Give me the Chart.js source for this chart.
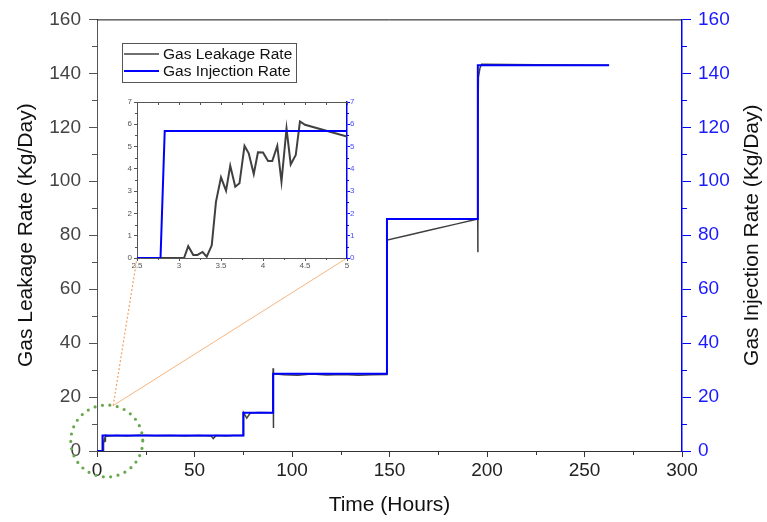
<!DOCTYPE html>
<html>
<head>
<meta charset="utf-8">
<script src="https://cdn.jsdelivr.net/npm/chart.js@4.4.1/dist/chart.umd.min.js"></script>
<style>
  body { margin: 0; background: #fff; }
  #wrap { position: relative; width: 767px; height: 522px; }
  #main { position: absolute; left: 0; top: 0; }
  #inset { position: absolute; left: 110px; top: 90px; }
</style>
</head>
<body>
<div id="wrap">
  <canvas id="main" width="767" height="522"></canvas>
  <canvas id="inset" width="250" height="185"></canvas>
</div>
<script>
// leakage rate (hours, kg/day)
const leakageHours = [0, 2.5, 3.06, 3.11, 3.17, 3.22, 3.28, 3.33, 3.39, 3.44, 3.5, 3.56, 3.61, 3.67, 3.72,
  3.78, 3.83, 3.89, 3.94, 4.0, 4.06, 4.11, 4.17, 4.22, 4.28, 4.33, 4.39, 4.44, 4.5, 5.0,
  6.5, 10, 15, 22, 30, 38, 45, 52, 58.5, 59.6, 61, 66, 70, 75,
  75.2, 76.8, 78.6, 83, 90.2, 90.3, 90.4, 90.6, 96, 103, 110, 118, 126, 134, 141, 148.6,
  148.8, 160, 172, 184, 195.25, 195.3, 195.35, 195.6, 196.4, 197.2, 225, 262.6];
const leakageRate = [0, 0, 0, 0.53, 0.14, 0.14, 0.27, 0.06, 0.57, 2.52, 3.62, 3.02, 4.14, 3.2, 3.35,
  5.03, 4.7, 3.77, 4.74, 4.73, 4.35, 4.35, 5.03, 3.42, 5.81, 4.2, 4.62, 6.13, 5.98, 5.45,
  5.6, 5.75, 5.6, 5.8, 5.65, 5.75, 5.6, 5.7, 5.6, 4.6, 5.7, 5.6, 5.75, 5.7,
  14.2, 12.2, 14.1, 14.3, 14.2, 30.7, 8.5, 28.6, 28.3, 28.1, 28.5, 28.2, 28.4, 28.1, 28.3, 28.4,
  78.2, 80.1, 82.1, 84.1, 86, 73.7, 120, 138.5, 142, 143.4, 143.2, 143];

// injection rate (stepwise)
const injectionHours = [0, 2.78, 2.83, 75, 75, 90.3, 90.3, 148.7, 148.7, 195.3, 195.3, 262.6];
const injectionRate = [0, 0, 5.7, 5.7, 14.2, 14.2, 28.6, 28.6, 86, 86, 143, 143];

const seriesLabels = ['Gas Leakage Rate', 'Gas Injection Rate'];
const axisTitles = ['Time (Hours)', 'Gas Leakage Rate (Kg/Day)', 'Gas Injection Rate (Kg/Day)'];

// zoomed region marker (hours, kg/day) and its radius in px
const zoomSpot = { hours: 5, rate: 3.7, radius: 36 };

const FONT = '"Liberation Sans", Arial, sans-serif';
const GRAY = '#404040';
const BLUE = '#0000ff';
const ORANGE = '#f4a261';

function points(xs, ys) {
  return xs.map((x, i) => ({ x: x, y: ys[i] }));
}
function range(a, b, step) {
  const out = [];
  for (let v = a; v <= b + 1e-9; v += step) out.push(+v.toFixed(4));
  return out;
}

// small tick marks drawn by hand (minor ticks / top frame)
function tickMarks(ctx, scale, values, len, color, side) {
  const area = scale.chart.chartArea;
  ctx.save();
  ctx.strokeStyle = color;
  ctx.lineWidth = 1;
  ctx.beginPath();
  values.forEach(v => {
    const p = Math.round(scale.getPixelForValue(v)) + 0.5;
    if (side === 'bottom') { ctx.moveTo(p, area.bottom); ctx.lineTo(p, area.bottom + len); }
    if (side === 'top') { ctx.moveTo(p, area.top); ctx.lineTo(p, area.top + len); }
    if (side === 'left') { ctx.moveTo(area.left - len, p); ctx.lineTo(area.left, p); }
    if (side === 'right') { ctx.moveTo(area.right, p); ctx.lineTo(area.right + len, p); }
  });
  ctx.stroke();
  ctx.restore();
}

function datasets(grayWidth, blueWidth) {
  return [
    { label: seriesLabels[0], data: points(leakageHours, leakageRate), yAxisID: 'y',
      borderColor: GRAY, borderWidth: grayWidth, showLine: true, pointRadius: 0, order: 2 },
    { label: seriesLabels[1], data: points(injectionHours, injectionRate), yAxisID: 'y2',
      borderColor: BLUE, borderWidth: blueWidth, showLine: true, pointRadius: 0, order: 1 }
  ];
}

// ---------- inset (zoom on 2.5 - 5 h) ----------
const insetFrame = {
  id: 'insetFrame',
  afterDraw(chart) {
    const { ctx, chartArea: a, scales } = chart;
    ctx.save();
    ctx.strokeStyle = '#555';
    ctx.lineWidth = 1;
    ctx.beginPath();
    ctx.moveTo(a.left, a.top + 0.5);
    ctx.lineTo(a.right, a.top + 0.5);
    ctx.stroke();
    ctx.restore();
    tickMarks(ctx, scales.x, range(2.5, 5, 0.25), 3, '#555', 'top');
    tickMarks(ctx, scales.x, range(2.75, 5, 0.5), 2, '#555', 'bottom');
    tickMarks(ctx, scales.y, range(0.5, 7, 1), 2, '#555', 'left');
    tickMarks(ctx, scales.y2, range(0.5, 7, 1), 2, BLUE, 'right');
  }
};

const smallFont = { family: FONT, size: 8 };
const plain = v => String(v);
const insetChart = new Chart(document.getElementById('inset'), {
  type: 'scatter',
  data: { datasets: datasets(2, 2) },
  options: {
    responsive: false,
    animation: false,
    layout: { padding: { top: 12 } },
    plugins: { legend: { display: false }, tooltip: { enabled: false } },
    scales: {
      x: {
        type: 'linear', min: 2.5, max: 5,
        ticks: { stepSize: 0.5, font: smallFont, color: '#555', padding: 0, maxRotation: 0, callback: plain },
        grid: { drawOnChartArea: false, tickLength: 3, color: '#555' },
        border: { color: '#555' },
        afterFit(s) { s.height = 17; }
      },
      y: {
        position: 'left', min: 0, max: 7,
        ticks: { stepSize: 1, font: smallFont, color: '#555', padding: 2, callback: plain },
        grid: { drawOnChartArea: false, tickLength: 3, color: '#555' },
        border: { color: '#555' },
        afterFit(s) { s.width = 27; }
      },
      y2: {
        position: 'right', min: 0, max: 7,
        ticks: { stepSize: 1, font: smallFont, color: '#4a4aff', padding: 0, callback: plain },
        grid: { drawOnChartArea: false, tickLength: 3, color: BLUE },
        border: { color: BLUE, width: 1.5 },
        afterFit(s) { s.width = 13; }
      }
    }
  },
  plugins: [insetFrame]
});

// ---------- main chart ----------
const mainDecor = {
  id: 'mainDecor',
  afterDraw(chart) {
    const { ctx, chartArea: a, scales } = chart;

    // top frame line
    ctx.save();
    ctx.strokeStyle = '#111';
    ctx.lineWidth = 1;
    ctx.beginPath();
    ctx.moveTo(a.left, a.top + 0.5);
    ctx.lineTo(a.right, a.top + 0.5);
    ctx.stroke();
    ctx.restore();

    // minor ticks
    tickMarks(ctx, scales.x, range(25, 275, 50), 4, '#333', 'bottom');
    tickMarks(ctx, scales.y, range(10, 150, 20), 5, '#555', 'left');
    tickMarks(ctx, scales.y2, range(10, 150, 20), 5, BLUE, 'right');

    // right axis title, reading bottom to top
    ctx.save();
    ctx.font = '21px ' + FONT;
    ctx.fillStyle = '#111';
    ctx.textAlign = 'center';
    ctx.textBaseline = 'middle';
    ctx.translate(752, (a.top + a.bottom) / 2);
    ctx.rotate(-Math.PI / 2);
    ctx.fillText(axisTitles[2], 0, 0);
    ctx.restore();

    // legend
    const lx = 122, ly = 43, lw = 174, lh = 39;
    ctx.save();
    ctx.fillStyle = '#fff';
    ctx.fillRect(lx, ly, lw, lh);
    ctx.strokeStyle = '#555';
    ctx.lineWidth = 1;
    ctx.strokeRect(lx + 0.5, ly + 0.5, lw, lh);
    ctx.font = '15.5px ' + FONT;
    ctx.textBaseline = 'middle';
    ctx.fillStyle = '#111';
    chart.data.datasets.forEach((ds, i) => {
      const y = ly + 11 + i * 17;
      ctx.strokeStyle = ds.borderColor;
      ctx.lineWidth = i === 0 ? 1.5 : 2;
      ctx.beginPath();
      ctx.moveTo(lx + 2, y);
      ctx.lineTo(lx + 37, y);
      ctx.stroke();
      ctx.fillText(ds.label, lx + 41, y + 1);
    });
    ctx.restore();

    // dotted circle around the zoomed region
    const cx = scales.x.getPixelForValue(zoomSpot.hours);
    const cy = scales.y.getPixelForValue(zoomSpot.rate);
    const r = zoomSpot.radius;
    ctx.save();
    ctx.strokeStyle = '#6aa84f';
    ctx.lineWidth = 3.2;
    ctx.lineCap = 'round';
    ctx.setLineDash([0, 7.5]);
    ctx.beginPath();
    ctx.arc(cx, cy, r, 0, Math.PI * 2);
    ctx.stroke();
    ctx.restore();

    // connector lines to the inset corners
    const ia = insetChart.chartArea;
    const off = { x: 110, y: 90 };
    const sx = cx + r * Math.sin(0.18), sy = cy - r * Math.cos(0.18);
    ctx.save();
    ctx.strokeStyle = ORANGE;
    ctx.lineWidth = 1.2;
    ctx.setLineDash([2, 2]);
    ctx.beginPath();
    ctx.moveTo(sx, sy);
    ctx.lineTo(off.x + ia.left, off.y + ia.bottom);
    ctx.stroke();
    ctx.setLineDash([]);
    ctx.lineWidth = 0.8;
    ctx.beginPath();
    ctx.moveTo(sx, sy);
    ctx.lineTo(off.x + ia.right, off.y + ia.bottom);
    ctx.stroke();
    ctx.restore();
  }
};

const tickFont = { family: FONT, size: 19 };
const titleFont = { family: FONT, size: 21 };
new Chart(document.getElementById('main'), {
  type: 'scatter',
  data: { datasets: datasets(1.5, 2) },
  options: {
    responsive: false,
    animation: false,
    layout: { padding: { top: 19 } },
    plugins: { legend: { display: false }, tooltip: { enabled: false } },
    scales: {
      x: {
        type: 'linear', min: 0, max: 300,
        ticks: { stepSize: 50, font: tickFont, color: '#222', padding: 2, maxRotation: 0 },
        grid: { drawOnChartArea: false, tickLength: 6, color: '#333' },
        border: { color: '#333' },
        title: { display: true, text: axisTitles[0], font: titleFont, color: '#111', padding: { top: 4, bottom: 4 } },
        afterFit(s) { s.height = 71; }
      },
      y: {
        position: 'left', min: 0, max: 160,
        ticks: { stepSize: 20, font: tickFont, color: '#444', padding: 8 },
        grid: { drawOnChartArea: false, tickLength: 8, color: '#555' },
        border: { color: '#555' },
        title: { display: true, text: axisTitles[1], font: titleFont, color: '#111', padding: { top: 14, bottom: 4 } },
        afterFit(s) { s.width = 97; }
      },
      y2: {
        position: 'right', min: 0, max: 160,
        ticks: { stepSize: 20, font: tickFont, color: '#1a1aff', padding: 7 },
        grid: { drawOnChartArea: false, tickLength: 9, color: BLUE },
        border: { color: BLUE, width: 1.5 },
        afterFit(s) { s.width = 85; }
      }
    }
  },
  plugins: [mainDecor]
});
</script>
</body>
</html>
